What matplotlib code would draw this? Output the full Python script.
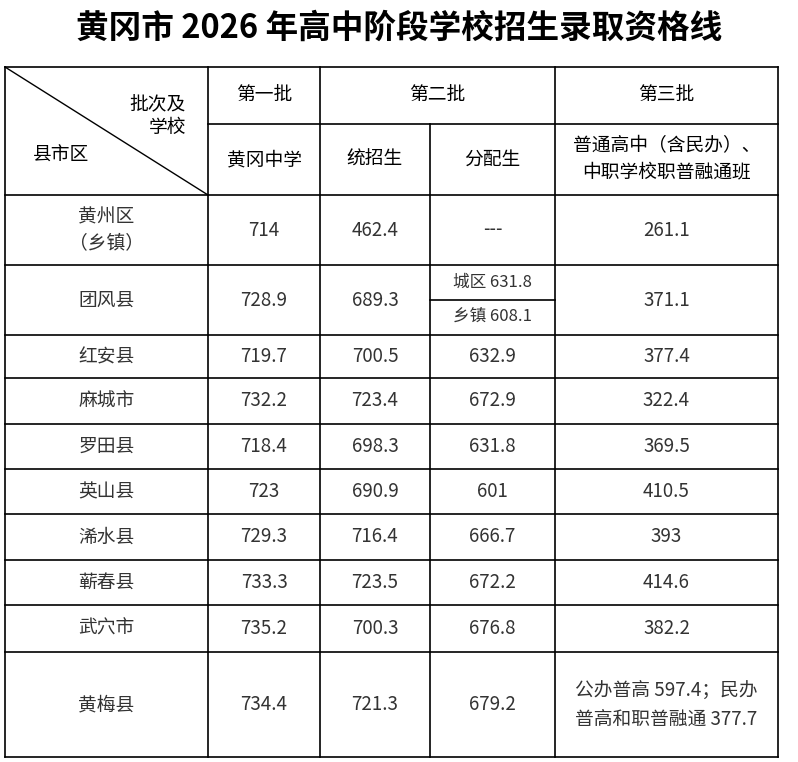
import matplotlib
matplotlib.use('Agg')
import matplotlib.pyplot as plt

plt.rcParams['font.family'] = ['Noto Sans CJK SC', 'DejaVu Sans']

TITLE = '黄冈市 2026 年高中阶段学校招生录取资格线'
districts = ['黄州区\n（乡镇）', '团风县', '红安县', '麻城市', '罗田县', '英山县', '浠水县', '蕲春县', '武穴市', '黄梅县']
first_batch = ['714', '728.9', '719.7', '732.2', '718.4', '723', '729.3', '733.3', '735.2', '734.4']
tongzhao = ['462.4', '689.3', '700.5', '723.4', '698.3', '690.9', '716.4', '723.5', '700.3', '721.3']
fenpei = ['---', None, '632.9', '672.9', '631.8', '601', '666.7', '672.2', '676.8', '679.2']
fenpei_tuanfeng = ['城区 631.8', '乡镇 608.1']
third_batch = ['261.1', '371.1', '377.4', '322.4', '369.5', '410.5', '393', '414.6', '382.2',
               '公办普高 597.4；民办\n普高和职普融通 377.7']

# layout in pixels
col_x = [5, 208, 320, 430, 555, 778]
row_y = [195, 265, 335, 378, 424, 469, 514, 560, 605, 652, 757]
head_y = [67, 124, 195]

fig = plt.figure(figsize=(7.98, 7.62), dpi=100)
ax = fig.add_axes([0, 0, 1, 1])
ax.set_xlim(0, 798)
ax.set_ylim(762, 0)
ax.axis('off')

ax.text(399, 28, TITLE, ha='center', va='center', fontsize=23.5, fontweight='bold')

lw = 1.2
def hline(y, x0, x1):
    ax.plot([x0, x1], [y, y], color='black', lw=lw)
def vline(x, y0, y1):
    ax.plot([x, x], [y0, y1], color='black', lw=lw)

# outer frame and grid
hline(head_y[0], col_x[0], col_x[-1])
hline(head_y[1], col_x[1], col_x[-1])
for y in row_y:
    hline(y, col_x[0], col_x[-1])
vline(col_x[0], head_y[0], row_y[-1])
vline(col_x[-1], head_y[0], row_y[-1])
vline(col_x[1], head_y[0], row_y[-1])
vline(col_x[2], head_y[0], row_y[-1])
vline(col_x[3], head_y[1], row_y[-1])
vline(col_x[4], head_y[0], row_y[-1])
# split in tuanfeng fenpei cell
mid = (row_y[1] + row_y[2]) / 2
hline(mid, col_x[3], col_x[4])
# diagonal
ax.plot([col_x[0], col_x[1]], [head_y[0], head_y[2]], color='black', lw=1)

fs = 13.5
ax.text(186, 116, '批次及\n学校', ha='right', va='center', fontsize=fs, linespacing=1.1)
ax.text(33, 155, '县市区', ha='left', va='center', fontsize=fs)

def cx(i):
    return (col_x[i] + col_x[i + 1]) / 2

hy1 = (head_y[0] + head_y[1]) / 2
hy2 = (head_y[1] + head_y[2]) / 2
ax.text(cx(1), hy1, '第一批', ha='center', va='center', fontsize=fs)
ax.text((col_x[2] + col_x[4]) / 2, hy1, '第二批', ha='center', va='center', fontsize=fs)
ax.text(cx(4), hy1, '第三批', ha='center', va='center', fontsize=fs)
ax.text(cx(1), hy2, '黄冈中学', ha='center', va='center', fontsize=fs)
ax.text(cx(2), hy2, '统招生', ha='center', va='center', fontsize=fs)
ax.text(cx(3), hy2, '分配生', ha='center', va='center', fontsize=fs)
ax.text(cx(4), hy2, '普通高中（含民办）、\n中职学校职普融通班', ha='center', va='center',
        fontsize=fs, linespacing=1.4)

vc = '#333333'
for i, name in enumerate(districts):
    yc = (row_y[i] + row_y[i + 1]) / 2
    ax.text(cx(0), yc, name, ha='center', va='center', fontsize=fs, color=vc, linespacing=1.3)
    ax.text(cx(1), yc, first_batch[i], ha='center', va='center', fontsize=fs, color=vc)
    ax.text(cx(2), yc, tongzhao[i], ha='center', va='center', fontsize=fs, color=vc)
    if fenpei[i] is None:
        ax.text(cx(3), (row_y[i] + mid) / 2, fenpei_tuanfeng[0], ha='center', va='center', fontsize=12, color=vc)
        ax.text(cx(3), (mid + row_y[i + 1]) / 2, fenpei_tuanfeng[1], ha='center', va='center', fontsize=12, color=vc)
    else:
        ax.text(cx(3), yc, fenpei[i], ha='center', va='center', fontsize=fs, color=vc)
    ax.text(cx(4), yc, third_batch[i], ha='center', va='center', fontsize=fs, color=vc, linespacing=1.5)

fig.savefig('out.png', dpi=100)
